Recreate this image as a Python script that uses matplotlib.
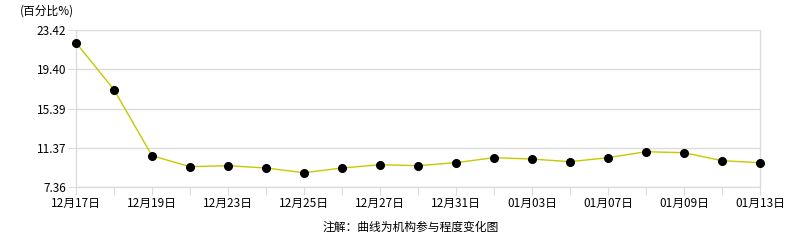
import matplotlib
matplotlib.use("Agg")
import matplotlib.pyplot as plt

plt.rcParams['font.family'] = ['Noto Sans CJK SC', 'DejaVu Sans']

dates = ["12月17日", "12月18日", "12月19日", "12月20日", "12月23日", "12月24日", "12月25日",
         "12月26日", "12月27日", "12月30日", "12月31日", "01月02日", "01月03日", "01月06日",
         "01月07日", "01月08日", "01月09日", "01月10日", "01月13日"]
values = [22.12, 17.31, 10.56, 9.44, 9.54, 9.30, 8.82, 9.30, 9.64, 9.54, 9.85, 10.36,
          10.22, 9.95, 10.36, 10.97, 10.87, 10.05, 9.85]
yticks = [7.36, 11.37, 15.39, 19.40, 23.42]
ytick_labels = ["7.36", "11.37", "15.39", "19.40", "23.42"]

fig = plt.figure(figsize=(7.86, 2.40), dpi=100)
ax = fig.add_axes([76/786, 1-187/240, (760-76)/786, (187-30)/240])

x = list(range(len(values)))
ax.plot(x, values, color="#C8C800", lw=1.0, zorder=3)
ax.plot(x, values, 'o', color="black", ms=5.5, zorder=4, clip_on=False)

ax.set_xlim(0, len(values)-1)
ax.set_ylim(yticks[0], yticks[-1])
ax.set_yticks(yticks)
ax.set_yticklabels(ytick_labels)
ax.set_xticks(x)
ax.set_xticklabels([d if i % 2 == 0 else "" for i, d in enumerate(dates)])

grid_c = "#DCDCDC"
ax.grid(axis='y', color=grid_c, lw=1)
for s in ['left', 'right', 'top', 'bottom']:
    ax.spines[s].set_color(grid_c)
    ax.spines[s].set_linewidth(1)
ax.spines['top'].set_visible(False)
ax.tick_params(axis='y', length=6, color=grid_c, pad=1, labelsize=8.5, labelcolor='black')
ax.tick_params(axis='x', length=6, color=grid_c, pad=1, labelsize=8.5, labelcolor='black')

fig.text(20/786, 1-11/240, "(百分比%)", fontsize=8.5, va='center', ha='left')
fig.text(411/786, 1-227/240, "注解：曲线为机构参与程度变化图", fontsize=8.5, va='center', ha='center')

fig.savefig("out.png", dpi=100)
